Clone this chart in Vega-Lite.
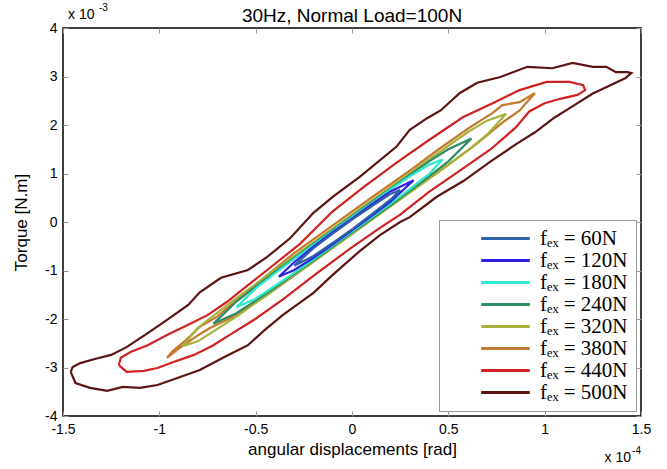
{
  "$schema": "https://vega.github.io/schema/vega-lite/v6.json",
  "width": 578,
  "height": 388,
  "autosize": {"type": "none"},
  "padding": {"left": 63, "top": 28, "right": 26, "bottom": 53},
  "background": "white",
  "title": {"text": "30Hz, Normal Load=100N", "font": "Liberation Sans", "fontSize": 19, "fontWeight": "normal", "color": "black", "offset": 6, "dy": 29, "anchor": "middle"},
  "config": {
    "view": {"stroke": "black", "strokeWidth": 1.5},
    "axis": {"domain": false, "grid": false, "ticks": true, "tickSize": -5, "tickColor": "#999", "labelFont": "Liberation Sans", "labelFontSize": 14, "labelColor": "black", "titleFont": "Liberation Sans", "titleFontSize": 17, "titleFontWeight": "normal", "titleColor": "black"},
    "text": {"font": "Liberation Sans", "color": "black"},
    "legend": {"orient": "bottom-right", "offset": 5, "symbolType": "M-2.7,0H2.7", "symbolSize": 324, "symbolStrokeWidth": 3, "symbolOffset": 48, "labelFont": "Liberation Serif", "labelFontSize": 21, "labelFontStyle": "normal", "labelColor": "black", "strokeColor": "#999", "fillColor": "white", "padding": 8, "rowPadding": 0, "labelOffset": 24, "labelLimit": 220}
  },
  "resolve": {"axis": {"x": "independent", "y": "independent"}},
  "layer": [
    {
      "data": {"values": [
        {"s":"f\u2091\u2093 = 500N","i":0,"x":-1.46,"y":-3.09},{"s":"f\u2091\u2093 = 500N","i":1,"x":-1.435,"y":-3.32},{"s":"f\u2091\u2093 = 500N","i":2,"x":-1.36,"y":-3.42},{"s":"f\u2091\u2093 = 500N","i":3,"x":-1.27,"y":-3.48},{"s":"f\u2091\u2093 = 500N","i":4,"x":-1.19,"y":-3.40},{"s":"f\u2091\u2093 = 500N","i":5,"x":-1.10,"y":-3.42},{"s":"f\u2091\u2093 = 500N","i":6,"x":-1.01,"y":-3.36},{"s":"f\u2091\u2093 = 500N","i":7,"x":-0.91,"y":-3.22},{"s":"f\u2091\u2093 = 500N","i":8,"x":-0.79,"y":-3.05},{"s":"f\u2091\u2093 = 500N","i":9,"x":-0.67,"y":-2.80},{"s":"f\u2091\u2093 = 500N","i":10,"x":-0.54,"y":-2.54},{"s":"f\u2091\u2093 = 500N","i":11,"x":-0.46,"y":-2.25},{"s":"f\u2091\u2093 = 500N","i":12,"x":-0.36,"y":-1.92},{"s":"f\u2091\u2093 = 500N","i":13,"x":-0.20,"y":-1.46},{"s":"f\u2091\u2093 = 500N","i":14,"x":-0.10,"y":-1.09},{"s":"f\u2091\u2093 = 500N","i":15,"x":0.04,"y":-0.60},{"s":"f\u2091\u2093 = 500N","i":16,"x":0.145,"y":-0.27},{"s":"f\u2091\u2093 = 500N","i":17,"x":0.25,"y":0.0},{"s":"f\u2091\u2093 = 500N","i":18,"x":0.30,"y":0.10},{"s":"f\u2091\u2093 = 500N","i":19,"x":0.44,"y":0.52},{"s":"f\u2091\u2093 = 500N","i":20,"x":0.58,"y":0.85},{"s":"f\u2091\u2093 = 500N","i":21,"x":0.72,"y":1.25},{"s":"f\u2091\u2093 = 500N","i":22,"x":0.85,"y":1.60},{"s":"f\u2091\u2093 = 500N","i":23,"x":0.95,"y":1.85},{"s":"f\u2091\u2093 = 500N","i":24,"x":1.05,"y":2.15},{"s":"f\u2091\u2093 = 500N","i":25,"x":1.15,"y":2.40},{"s":"f\u2091\u2093 = 500N","i":26,"x":1.25,"y":2.65},{"s":"f\u2091\u2093 = 500N","i":27,"x":1.33,"y":2.80},{"s":"f\u2091\u2093 = 500N","i":28,"x":1.42,"y":2.97},{"s":"f\u2091\u2093 = 500N","i":29,"x":1.45,"y":3.07},{"s":"f\u2091\u2093 = 500N","i":30,"x":1.43,"y":3.09},{"s":"f\u2091\u2093 = 500N","i":31,"x":1.37,"y":3.09},{"s":"f\u2091\u2093 = 500N","i":32,"x":1.32,"y":3.20},{"s":"f\u2091\u2093 = 500N","i":33,"x":1.25,"y":3.20},{"s":"f\u2091\u2093 = 500N","i":34,"x":1.145,"y":3.28},{"s":"f\u2091\u2093 = 500N","i":35,"x":1.04,"y":3.17},{"s":"f\u2091\u2093 = 500N","i":36,"x":0.91,"y":3.20},{"s":"f\u2091\u2093 = 500N","i":37,"x":0.77,"y":2.99},{"s":"f\u2091\u2093 = 500N","i":38,"x":0.65,"y":2.87},{"s":"f\u2091\u2093 = 500N","i":39,"x":0.56,"y":2.66},{"s":"f\u2091\u2093 = 500N","i":40,"x":0.46,"y":2.30},{"s":"f\u2091\u2093 = 500N","i":41,"x":0.39,"y":2.14},{"s":"f\u2091\u2093 = 500N","i":42,"x":0.30,"y":1.90},{"s":"f\u2091\u2093 = 500N","i":43,"x":0.23,"y":1.55},{"s":"f\u2091\u2093 = 500N","i":44,"x":0.04,"y":0.93},{"s":"f\u2091\u2093 = 500N","i":45,"x":-0.10,"y":0.52},{"s":"f\u2091\u2093 = 500N","i":46,"x":-0.20,"y":0.19},{"s":"f\u2091\u2093 = 500N","i":47,"x":-0.32,"y":-0.33},{"s":"f\u2091\u2093 = 500N","i":48,"x":-0.44,"y":-0.72},{"s":"f\u2091\u2093 = 500N","i":49,"x":-0.54,"y":-0.99},{"s":"f\u2091\u2093 = 500N","i":50,"x":-0.68,"y":-1.15},{"s":"f\u2091\u2093 = 500N","i":51,"x":-0.79,"y":-1.45},{"s":"f\u2091\u2093 = 500N","i":52,"x":-0.85,"y":-1.71},{"s":"f\u2091\u2093 = 500N","i":53,"x":-0.96,"y":-2.02},{"s":"f\u2091\u2093 = 500N","i":54,"x":-1.06,"y":-2.29},{"s":"f\u2091\u2093 = 500N","i":55,"x":-1.17,"y":-2.58},{"s":"f\u2091\u2093 = 500N","i":56,"x":-1.25,"y":-2.74},{"s":"f\u2091\u2093 = 500N","i":57,"x":-1.34,"y":-2.83},{"s":"f\u2091\u2093 = 500N","i":58,"x":-1.41,"y":-2.91},{"s":"f\u2091\u2093 = 500N","i":59,"x":-1.45,"y":-2.99},{"s":"f\u2091\u2093 = 500N","i":60,"x":-1.46,"y":-3.09},
        {"s":"f\u2091\u2093 = 440N","i":0,"x":-1.21,"y":-2.95},{"s":"f\u2091\u2093 = 440N","i":1,"x":-1.17,"y":-3.09},{"s":"f\u2091\u2093 = 440N","i":2,"x":-1.08,"y":-3.07},{"s":"f\u2091\u2093 = 440N","i":3,"x":-1.01,"y":-3.01},{"s":"f\u2091\u2093 = 440N","i":4,"x":-0.93,"y":-2.89},{"s":"f\u2091\u2093 = 440N","i":5,"x":-0.82,"y":-2.74},{"s":"f\u2091\u2093 = 440N","i":6,"x":-0.72,"y":-2.54},{"s":"f\u2091\u2093 = 440N","i":7,"x":-0.62,"y":-2.29},{"s":"f\u2091\u2093 = 440N","i":8,"x":-0.51,"y":-2.02},{"s":"f\u2091\u2093 = 440N","i":9,"x":-0.36,"y":-1.60},{"s":"f\u2091\u2093 = 440N","i":10,"x":-0.18,"y":-1.05},{"s":"f\u2091\u2093 = 440N","i":11,"x":-0.01,"y":-0.55},{"s":"f\u2091\u2093 = 440N","i":12,"x":0.145,"y":-0.12},{"s":"f\u2091\u2093 = 440N","i":13,"x":0.25,"y":0.15},{"s":"f\u2091\u2093 = 440N","i":14,"x":0.40,"y":0.62},{"s":"f\u2091\u2093 = 440N","i":15,"x":0.575,"y":1.10},{"s":"f\u2091\u2093 = 440N","i":16,"x":0.72,"y":1.50},{"s":"f\u2091\u2093 = 440N","i":17,"x":0.85,"y":1.95},{"s":"f\u2091\u2093 = 440N","i":18,"x":0.92,"y":2.28},{"s":"f\u2091\u2093 = 440N","i":19,"x":1.00,"y":2.45},{"s":"f\u2091\u2093 = 440N","i":20,"x":1.08,"y":2.54},{"s":"f\u2091\u2093 = 440N","i":21,"x":1.17,"y":2.62},{"s":"f\u2091\u2093 = 440N","i":22,"x":1.21,"y":2.72},{"s":"f\u2091\u2093 = 440N","i":23,"x":1.20,"y":2.82},{"s":"f\u2091\u2093 = 440N","i":24,"x":1.13,"y":2.89},{"s":"f\u2091\u2093 = 440N","i":25,"x":1.01,"y":2.89},{"s":"f\u2091\u2093 = 440N","i":26,"x":0.87,"y":2.72},{"s":"f\u2091\u2093 = 440N","i":27,"x":0.73,"y":2.45},{"s":"f\u2091\u2093 = 440N","i":28,"x":0.575,"y":2.16},{"s":"f\u2091\u2093 = 440N","i":29,"x":0.40,"y":1.69},{"s":"f\u2091\u2093 = 440N","i":30,"x":0.23,"y":1.22},{"s":"f\u2091\u2093 = 440N","i":31,"x":0.06,"y":0.72},{"s":"f\u2091\u2093 = 440N","i":32,"x":-0.10,"y":0.22},{"s":"f\u2091\u2093 = 440N","i":33,"x":-0.27,"y":-0.45},{"s":"f\u2091\u2093 = 440N","i":34,"x":-0.44,"y":-0.99},{"s":"f\u2091\u2093 = 440N","i":35,"x":-0.54,"y":-1.30},{"s":"f\u2091\u2093 = 440N","i":36,"x":-0.65,"y":-1.65},{"s":"f\u2091\u2093 = 440N","i":37,"x":-0.75,"y":-1.92},{"s":"f\u2091\u2093 = 440N","i":38,"x":-0.85,"y":-2.12},{"s":"f\u2091\u2093 = 440N","i":39,"x":-0.96,"y":-2.33},{"s":"f\u2091\u2093 = 440N","i":40,"x":-1.06,"y":-2.54},{"s":"f\u2091\u2093 = 440N","i":41,"x":-1.15,"y":-2.68},{"s":"f\u2091\u2093 = 440N","i":42,"x":-1.20,"y":-2.80},{"s":"f\u2091\u2093 = 440N","i":43,"x":-1.21,"y":-2.95},
        {"s":"f\u2091\u2093 = 380N","i":0,"x":-0.96,"y":-2.80},{"s":"f\u2091\u2093 = 380N","i":1,"x":-0.91,"y":-2.64},{"s":"f\u2091\u2093 = 380N","i":2,"x":-0.82,"y":-2.39},{"s":"f\u2091\u2093 = 380N","i":3,"x":-0.74,"y":-2.19},{"s":"f\u2091\u2093 = 380N","i":4,"x":-0.63,"y":-1.98},{"s":"f\u2091\u2093 = 380N","i":5,"x":-0.54,"y":-1.75},{"s":"f\u2091\u2093 = 380N","i":6,"x":-0.46,"y":-1.56},{"s":"f\u2091\u2093 = 380N","i":7,"x":-0.30,"y":-1.10},{"s":"f\u2091\u2093 = 380N","i":8,"x":-0.10,"y":-0.52},{"s":"f\u2091\u2093 = 380N","i":9,"x":0.10,"y":0.05},{"s":"f\u2091\u2093 = 380N","i":10,"x":0.30,"y":0.62},{"s":"f\u2091\u2093 = 380N","i":11,"x":0.50,"y":1.18},{"s":"f\u2091\u2093 = 380N","i":12,"x":0.65,"y":1.62},{"s":"f\u2091\u2093 = 380N","i":13,"x":0.78,"y":2.05},{"s":"f\u2091\u2093 = 380N","i":14,"x":0.87,"y":2.30},{"s":"f\u2091\u2093 = 380N","i":15,"x":0.95,"y":2.66},{"s":"f\u2091\u2093 = 380N","i":16,"x":0.87,"y":2.47},{"s":"f\u2091\u2093 = 380N","i":17,"x":0.78,"y":2.41},{"s":"f\u2091\u2093 = 380N","i":18,"x":0.73,"y":2.25},{"s":"f\u2091\u2093 = 380N","i":19,"x":0.60,"y":1.92},{"s":"f\u2091\u2093 = 380N","i":20,"x":0.45,"y":1.50},{"s":"f\u2091\u2093 = 380N","i":21,"x":0.30,"y":1.06},{"s":"f\u2091\u2093 = 380N","i":22,"x":0.10,"y":0.50},{"s":"f\u2091\u2093 = 380N","i":23,"x":-0.10,"y":-0.07},{"s":"f\u2091\u2093 = 380N","i":24,"x":-0.30,"y":-0.64},{"s":"f\u2091\u2093 = 380N","i":25,"x":-0.51,"y":-1.32},{"s":"f\u2091\u2093 = 380N","i":26,"x":-0.62,"y":-1.68},{"s":"f\u2091\u2093 = 380N","i":27,"x":-0.70,"y":-1.95},{"s":"f\u2091\u2093 = 380N","i":28,"x":-0.79,"y":-2.16},{"s":"f\u2091\u2093 = 380N","i":29,"x":-0.86,"y":-2.43},{"s":"f\u2091\u2093 = 380N","i":30,"x":-0.93,"y":-2.66},{"s":"f\u2091\u2093 = 380N","i":31,"x":-0.96,"y":-2.80},
        {"s":"f\u2091\u2093 = 320N","i":0,"x":-0.88,"y":-2.56},{"s":"f\u2091\u2093 = 320N","i":1,"x":-0.80,"y":-2.46},{"s":"f\u2091\u2093 = 320N","i":2,"x":-0.60,"y":-1.95},{"s":"f\u2091\u2093 = 320N","i":3,"x":-0.40,"y":-1.39},{"s":"f\u2091\u2093 = 320N","i":4,"x":-0.20,"y":-0.82},{"s":"f\u2091\u2093 = 320N","i":5,"x":0.00,"y":-0.25},{"s":"f\u2091\u2093 = 320N","i":6,"x":0.20,"y":0.32},{"s":"f\u2091\u2093 = 320N","i":7,"x":0.40,"y":0.89},{"s":"f\u2091\u2093 = 320N","i":8,"x":0.60,"y":1.47},{"s":"f\u2091\u2093 = 320N","i":9,"x":0.70,"y":1.80},{"s":"f\u2091\u2093 = 320N","i":10,"x":0.80,"y":2.23},{"s":"f\u2091\u2093 = 320N","i":11,"x":0.70,"y":2.09},{"s":"f\u2091\u2093 = 320N","i":12,"x":0.60,"y":1.85},{"s":"f\u2091\u2093 = 320N","i":13,"x":0.40,"y":1.29},{"s":"f\u2091\u2093 = 320N","i":14,"x":0.20,"y":0.72},{"s":"f\u2091\u2093 = 320N","i":15,"x":0.00,"y":0.15},{"s":"f\u2091\u2093 = 320N","i":16,"x":-0.20,"y":-0.42},{"s":"f\u2091\u2093 = 320N","i":17,"x":-0.40,"y":-0.99},{"s":"f\u2091\u2093 = 320N","i":18,"x":-0.60,"y":-1.57},{"s":"f\u2091\u2093 = 320N","i":19,"x":-0.80,"y":-2.18},{"s":"f\u2091\u2093 = 320N","i":20,"x":-0.88,"y":-2.56},
        {"s":"f\u2091\u2093 = 240N","i":0,"x":-0.72,"y":-2.10},{"s":"f\u2091\u2093 = 240N","i":1,"x":-0.60,"y":-1.88},{"s":"f\u2091\u2093 = 240N","i":2,"x":-0.50,"y":-1.62},{"s":"f\u2091\u2093 = 240N","i":3,"x":-0.40,"y":-1.35},{"s":"f\u2091\u2093 = 240N","i":4,"x":-0.30,"y":-1.07},{"s":"f\u2091\u2093 = 240N","i":5,"x":-0.20,"y":-0.79},{"s":"f\u2091\u2093 = 240N","i":6,"x":0.00,"y":-0.22},{"s":"f\u2091\u2093 = 240N","i":7,"x":0.20,"y":0.35},{"s":"f\u2091\u2093 = 240N","i":8,"x":0.30,"y":0.64},{"s":"f\u2091\u2093 = 240N","i":9,"x":0.40,"y":0.94},{"s":"f\u2091\u2093 = 240N","i":10,"x":0.50,"y":1.25},{"s":"f\u2091\u2093 = 240N","i":11,"x":0.62,"y":1.72},{"s":"f\u2091\u2093 = 240N","i":12,"x":0.50,"y":1.50},{"s":"f\u2091\u2093 = 240N","i":13,"x":0.40,"y":1.25},{"s":"f\u2091\u2093 = 240N","i":14,"x":0.30,"y":0.97},{"s":"f\u2091\u2093 = 240N","i":15,"x":0.20,"y":0.69},{"s":"f\u2091\u2093 = 240N","i":16,"x":0.00,"y":0.12},{"s":"f\u2091\u2093 = 240N","i":17,"x":-0.20,"y":-0.45},{"s":"f\u2091\u2093 = 240N","i":18,"x":-0.30,"y":-0.74},{"s":"f\u2091\u2093 = 240N","i":19,"x":-0.40,"y":-1.03},{"s":"f\u2091\u2093 = 240N","i":20,"x":-0.50,"y":-1.33},{"s":"f\u2091\u2093 = 240N","i":21,"x":-0.60,"y":-1.64},{"s":"f\u2091\u2093 = 240N","i":22,"x":-0.72,"y":-2.10},
        {"s":"f\u2091\u2093 = 180N","i":0,"x":-0.60,"y":-1.76},{"s":"f\u2091\u2093 = 180N","i":1,"x":-0.50,"y":-1.58},{"s":"f\u2091\u2093 = 180N","i":2,"x":-0.40,"y":-1.32},{"s":"f\u2091\u2093 = 180N","i":3,"x":-0.30,"y":-1.05},{"s":"f\u2091\u2093 = 180N","i":4,"x":-0.20,"y":-0.77},{"s":"f\u2091\u2093 = 180N","i":5,"x":-0.10,"y":-0.48},{"s":"f\u2091\u2093 = 180N","i":6,"x":0.00,"y":-0.20},{"s":"f\u2091\u2093 = 180N","i":7,"x":0.10,"y":0.09},{"s":"f\u2091\u2093 = 180N","i":8,"x":0.20,"y":0.38},{"s":"f\u2091\u2093 = 180N","i":9,"x":0.30,"y":0.68},{"s":"f\u2091\u2093 = 180N","i":10,"x":0.40,"y":0.99},{"s":"f\u2091\u2093 = 180N","i":11,"x":0.47,"y":1.29},{"s":"f\u2091\u2093 = 180N","i":12,"x":0.40,"y":1.18},{"s":"f\u2091\u2093 = 180N","i":13,"x":0.30,"y":0.94},{"s":"f\u2091\u2093 = 180N","i":14,"x":0.20,"y":0.67},{"s":"f\u2091\u2093 = 180N","i":15,"x":0.10,"y":0.38},{"s":"f\u2091\u2093 = 180N","i":16,"x":0.00,"y":0.10},{"s":"f\u2091\u2093 = 180N","i":17,"x":-0.10,"y":-0.19},{"s":"f\u2091\u2093 = 180N","i":18,"x":-0.20,"y":-0.47},{"s":"f\u2091\u2093 = 180N","i":19,"x":-0.30,"y":-0.76},{"s":"f\u2091\u2093 = 180N","i":20,"x":-0.40,"y":-1.06},{"s":"f\u2091\u2093 = 180N","i":21,"x":-0.50,"y":-1.37},{"s":"f\u2091\u2093 = 180N","i":22,"x":-0.60,"y":-1.76},
        {"s":"f\u2091\u2093 = 120N","i":0,"x":-0.38,"y":-1.13},{"s":"f\u2091\u2093 = 120N","i":1,"x":-0.30,"y":-0.99},{"s":"f\u2091\u2093 = 120N","i":2,"x":-0.20,"y":-0.74},{"s":"f\u2091\u2093 = 120N","i":3,"x":-0.10,"y":-0.46},{"s":"f\u2091\u2093 = 120N","i":4,"x":0.00,"y":-0.17},{"s":"f\u2091\u2093 = 120N","i":5,"x":0.10,"y":0.12},{"s":"f\u2091\u2093 = 120N","i":6,"x":0.20,"y":0.42},{"s":"f\u2091\u2093 = 120N","i":7,"x":0.32,"y":0.86},{"s":"f\u2091\u2093 = 120N","i":8,"x":0.20,"y":0.63},{"s":"f\u2091\u2093 = 120N","i":9,"x":0.10,"y":0.36},{"s":"f\u2091\u2093 = 120N","i":10,"x":0.00,"y":0.07},{"s":"f\u2091\u2093 = 120N","i":11,"x":-0.10,"y":-0.21},{"s":"f\u2091\u2093 = 120N","i":12,"x":-0.20,"y":-0.51},{"s":"f\u2091\u2093 = 120N","i":13,"x":-0.30,"y":-0.83},{"s":"f\u2091\u2093 = 120N","i":14,"x":-0.38,"y":-1.13},
        {"s":"f\u2091\u2093 = 60N","i":0,"x":-0.30,"y":-0.90},{"s":"f\u2091\u2093 = 60N","i":1,"x":-0.20,"y":-0.70},{"s":"f\u2091\u2093 = 60N","i":2,"x":-0.10,"y":-0.43},{"s":"f\u2091\u2093 = 60N","i":3,"x":0.00,"y":-0.15},{"s":"f\u2091\u2093 = 60N","i":4,"x":0.10,"y":0.15},{"s":"f\u2091\u2093 = 60N","i":5,"x":0.20,"y":0.46},{"s":"f\u2091\u2093 = 60N","i":6,"x":0.25,"y":0.66},{"s":"f\u2091\u2093 = 60N","i":7,"x":0.20,"y":0.58},{"s":"f\u2091\u2093 = 60N","i":8,"x":0.10,"y":0.32},{"s":"f\u2091\u2093 = 60N","i":9,"x":0.00,"y":0.05},{"s":"f\u2091\u2093 = 60N","i":10,"x":-0.10,"y":-0.24},{"s":"f\u2091\u2093 = 60N","i":11,"x":-0.20,"y":-0.54},{"s":"f\u2091\u2093 = 60N","i":12,"x":-0.30,"y":-0.90}
      ]},
      "mark": {"type": "line", "strokeWidth": 2.2, "clip": true},
      "encoding": {
        "x": {"field": "x", "type": "quantitative", "scale": {"domain": [-1.5, 1.5], "nice": false, "zero": false},
              "axis": {"values": [-1.5, -1, -0.5, 0, 0.5, 1, 1.5], "labelExpr": "'' + datum.value", "title": "angular displacements [rad]", "labelPadding": 11, "titlePadding": 5, "labelFlush": false}},
        "y": {"field": "y", "type": "quantitative", "scale": {"domain": [-4, 4], "nice": false, "zero": false},
              "axis": {"values": [-4, -3, -2, -1, 0, 1, 2, 3, 4], "labelExpr": "'' + datum.value", "title": "Torque [N.m]", "labelPadding": 11, "titlePadding": 14, "labelFlush": false}},
        "color": {"field": "s", "type": "nominal", "title": null,
                  "scale": {"domain": ["f\u2091\u2093 = 60N", "f\u2091\u2093 = 120N", "f\u2091\u2093 = 180N", "f\u2091\u2093 = 240N", "f\u2091\u2093 = 320N", "f\u2091\u2093 = 380N", "f\u2091\u2093 = 440N", "f\u2091\u2093 = 500N"],
                            "range": ["#2f62a6", "#3020e0", "#30e8cc", "#2e8b64", "#a8b23c", "#c47a2c", "#d02222", "#5c1414"]}},
        "detail": {"field": "s"},
        "order": {"field": "i", "type": "quantitative"}
      }
    },
    {
      "data": {"values": [{"x": -1.5, "y": 4, "t": "x 10"}]},
      "mark": {"type": "text", "align": "left", "baseline": "alphabetic", "dx": 5, "dy": -9, "fontSize": 14},
      "encoding": {
        "x": {"field": "x", "type": "quantitative", "axis": {"orient": "top", "values": [-1.5, -1, -0.5, 0, 0.5, 1, 1.5], "labels": false, "title": null}},
        "y": {"field": "y", "type": "quantitative", "axis": {"orient": "right", "values": [-4, -3, -2, -1, 0, 1, 2, 3, 4], "labels": false, "title": null}},
        "text": {"field": "t"}
      }
    },
    {
      "data": {"values": [{"x": -1.5, "y": 4, "t": "-3"}]},
      "mark": {"type": "text", "align": "left", "baseline": "alphabetic", "dx": 36, "dy": -17, "fontSize": 10},
      "encoding": {
        "x": {"field": "x", "type": "quantitative", "axis": null},
        "y": {"field": "y", "type": "quantitative", "axis": null},
        "text": {"field": "t"}
      }
    },
    {
      "data": {"values": [{"x": 1.5, "y": -4, "t": "x 10"}]},
      "mark": {"type": "text", "align": "right", "baseline": "alphabetic", "dx": -10, "dy": 46, "fontSize": 14},
      "encoding": {
        "x": {"field": "x", "type": "quantitative", "axis": null},
        "y": {"field": "y", "type": "quantitative", "axis": null},
        "text": {"field": "t"}
      }
    },
    {
      "data": {"values": [{"x": 1.5, "y": -4, "t": "-4"}]},
      "mark": {"type": "text", "align": "right", "baseline": "alphabetic", "dx": 0, "dy": 38, "fontSize": 10},
      "encoding": {
        "x": {"field": "x", "type": "quantitative", "axis": null},
        "y": {"field": "y", "type": "quantitative", "axis": null},
        "text": {"field": "t"}
      }
    }
  ]
}
